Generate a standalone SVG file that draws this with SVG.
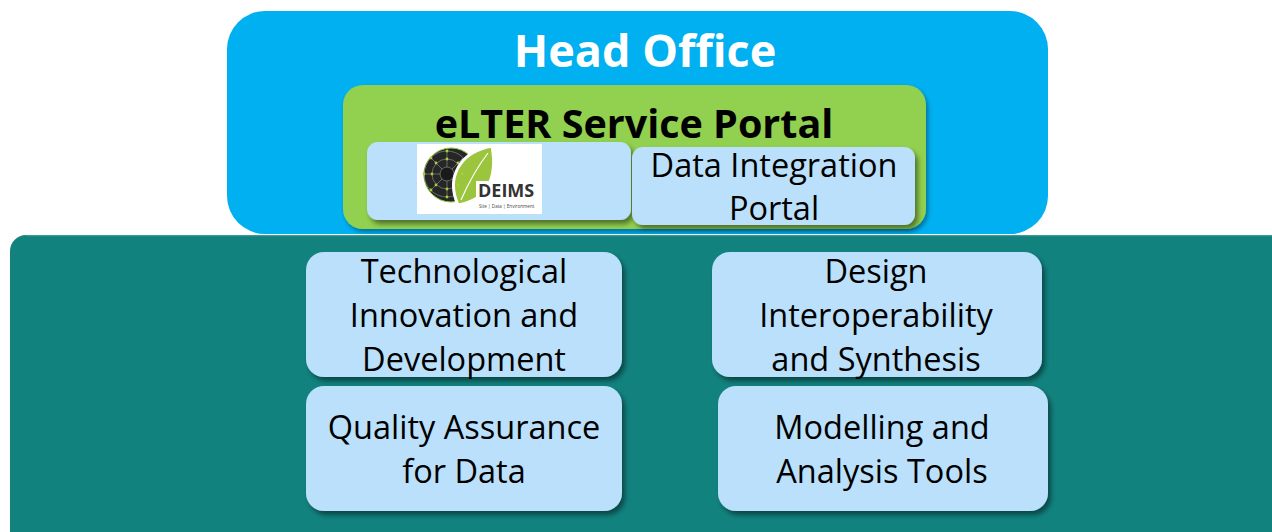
<svg xmlns="http://www.w3.org/2000/svg" width="1272" height="532" viewBox="0 0 1272 532">
  <defs>
    <filter id="sh" x="-10%" y="-10%" width="130%" height="140%">
      <feDropShadow dx="3" dy="4" stdDeviation="2.5" flood-color="#000" flood-opacity="0.45"/>
    </filter>
    <filter id="shs" x="-10%" y="-10%" width="130%" height="140%">
      <feDropShadow dx="2" dy="3" stdDeviation="2" flood-color="#000" flood-opacity="0.35"/>
    </filter>
    <clipPath id="logoClip"><rect x="417" y="144" width="125" height="70"/></clipPath>
  </defs>
  <style>
    .box { fill: #BBE0FB; }
    .lbl { font-family: "Open Sans", "Liberation Sans", sans-serif; font-size: 32.5px; fill: #000; text-anchor: middle; }
    .web { fill: none; stroke: #7a7a7a; stroke-width: 0.8; }
    .dot { fill: #A4D233; }
  </style>
  <rect width="1272" height="532" fill="#ffffff"/>

  <g id="research-infrastructure">
    <rect x="10" y="235" width="1290" height="320" rx="16" fill="#12827F"/>
    <path d="M26,235.6 H1272" stroke="#3a9c99" stroke-width="1.2"/>
  </g>

  <g id="head-office">
    <rect x="227" y="11" width="821" height="223" rx="38" fill="#00B0F0"/>
    <text x="645" y="67" font-family="'Open Sans', 'Liberation Sans', sans-serif" font-size="45" font-weight="bold" fill="#ffffff" text-anchor="middle">Head Office</text>
  </g>

  <g id="service-portal">
    <rect x="343" y="85" width="583" height="144" rx="20" fill="#92D050" filter="url(#shs)"/>
    <text x="634" y="138" font-family="'Open Sans', 'Liberation Sans', sans-serif" font-size="39.5" font-weight="bold" fill="#000" text-anchor="middle">eLTER Service Portal</text>
  </g>

  <g id="deims">
    <rect class="box" x="367" y="142" width="264" height="78" rx="11" filter="url(#sh)"/>
    <g id="deims-logo" clip-path="url(#logoClip)">
      <rect x="417" y="144" width="125" height="70" fill="#ffffff"/>
      <circle cx="451" cy="175" r="27" fill="#262626" stroke="#8DC63F" stroke-width="1"/>
      <circle class="web" cx="447" cy="174" r="15"/>
      <circle class="web" cx="447" cy="174" r="23"/>
      <path class="web" d="M447,151 V197 M424,174 H470 M431,158 L463,190 M431,190 L463,158"/>
      <circle cx="447" cy="174" r="7" fill="#1a1a1a" stroke="#7a7a7a" stroke-width="0.8"/>
      <path d="M458,205 C446,178 459,152 492,146 C498,178 487,200 458,205 Z" fill="#9BC53D" stroke="#ffffff" stroke-width="3"/>
      <path d="M461,200 C468,184 478,166 488,153" fill="none" stroke="#ffffff" stroke-width="1.2"/>
      <circle class="dot" cx="447" cy="159" r="1.4"/>
      <circle class="dot" cx="447" cy="189" r="1.4"/>
      <circle class="dot" cx="432" cy="174" r="1.4"/>
      <circle class="dot" cx="462" cy="174" r="1.4"/>
      <circle class="dot" cx="436" cy="163" r="1.4"/>
      <circle class="dot" cx="458" cy="163" r="1.4"/>
      <circle class="dot" cx="436" cy="185" r="1.4"/>
      <circle class="dot" cx="458" cy="185" r="1.4"/>
      <circle class="dot" cx="447" cy="151" r="1.4"/>
      <circle class="dot" cx="424" cy="174" r="1.4"/>
      <circle class="dot" cx="447" cy="197" r="1.4"/>
      <circle class="dot" cx="431" cy="158" r="1.4"/>
      <circle class="dot" cx="431" cy="190" r="1.4"/>
      <rect x="476" y="181" width="60" height="28" fill="#ffffff"/>
      <text x="478" y="197" font-family="'Open Sans', 'Liberation Sans', sans-serif" font-size="18" font-weight="bold" fill="#333333">DEIMS</text>
      <text x="479" y="208" font-family="'Open Sans', 'Liberation Sans', sans-serif" font-size="4.6" fill="#444444">Site | Data | Environment</text>
    </g>
  </g>

  <g id="data-integration-portal">
    <rect class="box" x="632" y="147" width="283" height="78" rx="11" filter="url(#sh)"/>
    <text class="lbl" x="774" y="177">Data Integration</text>
    <text class="lbl" x="774" y="220">Portal</text>
  </g>

  <g id="tech-innovation">
    <rect class="box" x="306" y="252" width="316" height="125" rx="18" filter="url(#sh)"/>
    <text class="lbl" x="464" y="283">Technological</text>
    <text class="lbl" x="464" y="327">Innovation and</text>
    <text class="lbl" x="464" y="371">Development</text>
  </g>

  <g id="quality-assurance">
    <rect class="box" x="306" y="386" width="316" height="125" rx="18" filter="url(#sh)"/>
    <text class="lbl" x="464" y="439">Quality Assurance</text>
    <text class="lbl" x="464" y="483">for Data</text>
  </g>

  <g id="design-interoperability">
    <rect class="box" x="712" y="252" width="330" height="125" rx="18" filter="url(#sh)"/>
    <text class="lbl" x="876" y="283">Design</text>
    <text class="lbl" x="876" y="327">Interoperability</text>
    <text class="lbl" x="876" y="371">and Synthesis</text>
  </g>

  <g id="modelling-analysis">
    <rect class="box" x="718" y="386" width="330" height="125" rx="18" filter="url(#sh)"/>
    <text class="lbl" x="882" y="439">Modelling and</text>
    <text class="lbl" x="882" y="483">Analysis Tools</text>
  </g>

  <g id="connectors"></g>
</svg>
